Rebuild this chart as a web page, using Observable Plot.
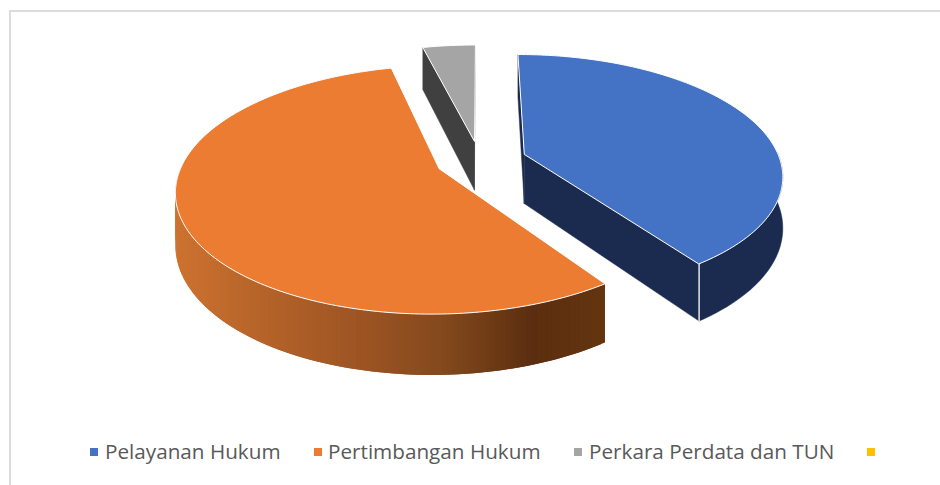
<!DOCTYPE html>
<html><head><meta charset="utf-8">
<script src="https://cdn.jsdelivr.net/npm/d3@7"></script>
<script src="https://cdn.jsdelivr.net/npm/@observablehq/plot@0.6"></script>
<style>
html,body{margin:0;padding:0;background:#fff;overflow:hidden}
#wrap{position:relative;width:940px;height:485px;overflow:hidden}
#frame{position:absolute;left:9px;top:10px;right:-5px;bottom:-5px;border:2px solid #dcdcdc;box-sizing:border-box}
#plot{position:absolute;left:0;top:0}
#legend{position:absolute;left:0;top:433px;width:940px;height:36px;font:20.7px "Open Sans",sans-serif;color:#595959}
#legend span{position:absolute;top:0;line-height:36px;white-space:nowrap}
#legend i{position:absolute;top:15px;width:8px;height:8px}
</style></head><body>
<div id="wrap"><div id="frame"></div><div id="plot"></div><div id="legend"></div></div>
<script>
const categories = ["Pelayanan Hukum", "Pertimbangan Hukum", "Perkara Perdata dan TUN", ""];
const shares = [40.3, 55.8, 3.9, 0];
const topColors = ["#4472c4", "#eb7c31", "#a5a5a5", "#ffc000"];
const wallColors = ["#1a2b4f", null, "#404040", "#ffc000"];
const orangeWallStops = ["#cc7230", "#b8652a", "#9f5524", "#84491d", "#5b2e0f", "#65350f"];
const orangeWallStopX = [178, 250, 350, 440, 530, 606];
const explodeBy = [0.185, 0.17, 0.17, 0.17];
const legendSwatchX = [90, 314, 574, 867];
const legendTextX = [105, 328, 589, 0];

// view parameters of the 3-D pie
const view = {cx: 479, cy: 160, a: 256, b: 118, k: 0.166, depth: 50, step: 1};
const project = (X, Y, Z) => {
  const s = 1 / (1 + view.k * Y);
  return [view.cx + view.a * X * s, view.cy - view.b * Y * s + view.depth * s * Z];
};
const arcs = d3.pie().sort(null).value(d => d)(shares);
const polys = [];
let id = 0;
const addPoly = (pts, fill, stroke, sw) => {
  const i = id++;
  pts.forEach(p => polys.push({i, x: p[0], y: p[1], fill, stroke, sw}));
};
const ramp = d3.scaleLinear().domain(orangeWallStopX).range(orangeWallStops).interpolate(d3.interpolateRgb).clamp(true);
[2, 0, 1].forEach(si => {
  const a = arcs[si];
  const mid = (a.startAngle + a.endAngle) / 2;
  const ox = Math.sin(mid) * explodeBy[si], oy = Math.cos(mid) * explodeBy[si];
  const P = (t, r, z) => project(ox + r * Math.sin(t), oy + r * Math.cos(t), z);
  const n = Math.ceil((a.endAngle - a.startAngle) * 180 / Math.PI / view.step);
  const ts = d3.range(n + 1).map(i => a.startAngle + (a.endAngle - a.startAngle) * i / n);
  const facing = ts.filter(t => Math.cos(t) < 0.02);
  if (wallColors[si]) {
    const c = wallColors[si];
    addPoly([P(a.startAngle,0,0),P(a.startAngle,1,0),P(a.startAngle,1,1),P(a.startAngle,0,1)], c, c, 0.5);
    addPoly([P(a.endAngle,0,0),P(a.endAngle,1,0),P(a.endAngle,1,1),P(a.endAngle,0,1)], c, c, 0.5);
    if (facing.length > 1) {
      addPoly([...facing.map(t => P(t,1,0)), ...facing.slice().reverse().map(t => P(t,1,1))], c, c, 0.5);
    }
  } else {
    // gradient wall: overlapping bands painted in order, so no seams show
    for (let i = 0; i < facing.length - 1; i++) {
      const j = Math.min(i + 2, facing.length - 1);
      const p1 = P(facing[i],1,0), p2 = P(facing[j],1,0), p3 = P(facing[j],1,1), p4 = P(facing[i],1,1);
      addPoly([p1,p2,p3,p4], ramp(P(facing[i + 1],1,0)[0]), "none", 0);
    }
  }
  if (si === 0) addPoly([P(a.endAngle,1,0),P(a.endAngle,1,1)], "none", "#fff", 1.3);
  addPoly([P(a.startAngle,0,0), ...ts.map(t => P(t,1,0))], topColors[si], "#fff", 1);
});

const chart = Plot.plot({
  width: 940, height: 425, margin: 0,
  x: {type: "identity", axis: null},
  y: {type: "identity", axis: null},
  color: {type: "identity"},
  marks: [
    Plot.line(polys, {x: "x", y: "y", z: "i", fill: "fill", stroke: "stroke", strokeWidth: "sw", curve: "linear-closed"})
  ]
});
chart.style.background = "transparent";
document.getElementById("plot").appendChild(chart);

const legend = document.getElementById("legend");
categories.forEach((c, i) => {
  const sw = document.createElement("i");
  sw.style.left = legendSwatchX[i] + "px"; sw.style.background = topColors[i];
  legend.appendChild(sw);
  if (c) {
    const s = document.createElement("span");
    s.textContent = c; s.style.left = legendTextX[i] + "px";
    legend.appendChild(s);
  }
});
</script>
</body></html>
